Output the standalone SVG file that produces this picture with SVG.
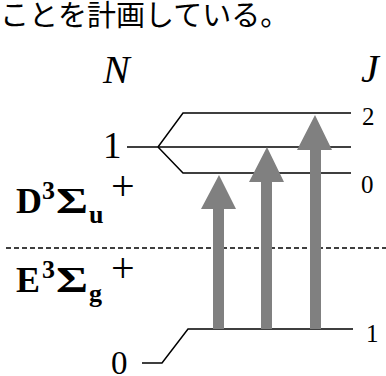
<svg xmlns="http://www.w3.org/2000/svg" width="386" height="376" viewBox="0 0 386 376">
<style>
.ln{stroke:#000;stroke-width:1.5;fill:none}
.dash{stroke:#000;stroke-width:1.3;stroke-dasharray:5 3;fill:none}
.arr{fill:#808080}
.num{font-family:"Liberation Serif",serif;fill:#000}
.bold{font-family:"Liberation Serif",serif;font-weight:bold;fill:#000}
.cap{font-family:"Noto Sans CJK JP",sans-serif;fill:#000}
</style>
<rect width="386" height="376" fill="#fff"/>
<text class="cap" x="0" y="26" font-size="29">ことを計画している。</text>
<g id="axis-labels">
<text class="num" x="103" y="83" font-size="40" font-style="italic">N</text>
<text class="num" x="361" y="82" font-size="40" font-style="italic">J</text>
</g>
<g id="connectors">
<polyline class="ln" points="127,147 158,147 183,113 351,113"/>
<line class="ln" x1="158" y1="147" x2="351" y2="147"/>
<polyline class="ln" points="158,147 183,173 351,173"/>
<polyline class="ln" points="142,363 162,363 188,329 353,329"/>
<line class="dash" x1="6" y1="248" x2="386" y2="248"/>
</g>
<g id="level-upper">
<text class="num" x="103" y="158" font-size="37">1</text>
<text class="num" x="362" y="125" font-size="25">2</text>
<text class="num" x="361" y="193" font-size="25">0</text>
</g>
<g id="level-lower">
<text class="num" x="111" y="374" font-size="33">0</text>
<text class="num" x="366" y="342" font-size="25">1</text>
</g>
<g id="state-D">
<text class="bold" x="16" y="213" font-size="36">D</text>
<text class="bold" x="42" y="199" font-size="26">3</text>
<text class="bold" x="56" y="213" font-size="36" textLength="32" lengthAdjust="spacingAndGlyphs">Σ</text>
<text class="bold" x="89" y="223" font-size="26">u</text>
<text class="num" x="111" y="200" font-size="42">+</text>
</g>
<g id="state-E">
<text class="bold" x="16" y="292" font-size="36">E</text>
<text class="bold" x="42" y="278" font-size="26">3</text>
<text class="bold" x="56" y="292" font-size="36" textLength="32" lengthAdjust="spacingAndGlyphs">Σ</text>
<text class="bold" x="89" y="302" font-size="26">g</text>
<text class="num" x="111" y="282" font-size="42">+</text>
</g>
<g id="arrows">
<polygon class="arr" points="213,329 213,209 201,209 219,175 236,209 224,209 224,329"/>
<polygon class="arr" points="261,329 261,182 249,182 267,147 284,182 272,182 272,329"/>
<polygon class="arr" points="310,329 310,150 297,150 315,115 332,150 321,150 321,329"/>
</g>
</svg>
